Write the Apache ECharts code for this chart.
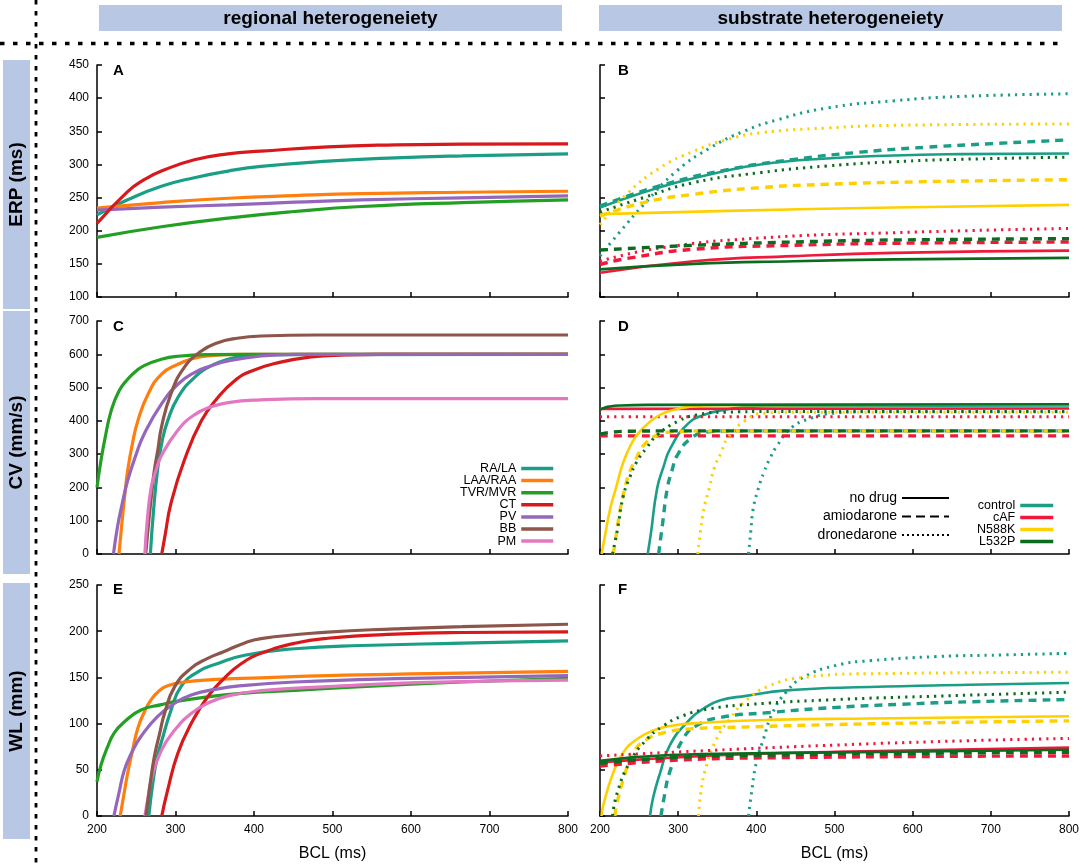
<!DOCTYPE html>
<html>
<head>
<meta charset="utf-8">
<script src="https://cdn.jsdelivr.net/npm/echarts@6/dist/echarts.min.js"></script>
<style>
html, body { margin: 0; padding: 0; background: #fff; }
#chart { width: 1084px; height: 867px; }
</style>
</head>
<body>
<div id="chart"></div>
<script>
// ---- data: [BCL (ms), value] ----
var regionNames = ['RA/LA', 'LAA/RAA', 'TVR/MVR', 'CT', 'PV', 'BB', 'PM'];
var drugNames = ['no drug', 'amiodarone', 'dronedarone'];
var substrateNames = ['control', 'cAF', 'N588K', 'L532P'];

// A: ERP, regional
var erpRA  = [[200,224],[239,246.6],[282,267],[324,280],[367,290],[409,297],[494,305],[580,310],[665,313],[800,316]];
var erpLAA = [[200,234],[282,242.5],[367,249],[452,253],[537,256],[665,258],[800,259.5]];
var erpTVR = [[200,190],[282,206],[367,219],[452,229],[537,236.5],[665,242.5],[800,246.5]];
var erpCT  = [[200,211],[239,259],[260,277],[282,290],[324,307],[367,316],[409,320],[494,326.5],[580,329.5],[665,330.5],[800,331]];
var erpPV  = [[200,231],[282,235.5],[367,239],[452,243],[537,246.5],[665,249.5],[800,252.5]];

// C: CV, regional
var cvRA  = [[268,0],[272,130],[277,250],[283,340],[290,400],[303,470],[324,530],[345,565],[367,585],[388,593],[430,599],[800,600]];
var cvLAA = [[228,0],[232,100],[236,190],[239,250],[245,330],[252,400],[265,480],[282,540],[303,570],[324,588],[345,596],[380,600],[800,600]];
var cvTVR = [[200,200],[205,280],[210,345],[218,430],[228,490],[239,525],[250,550],[260,566],[282,585],[303,594],[340,599],[400,600],[800,600]];
var cvCT  = [[282.5,0],[287,60],[294,150],[311,280],[333,400],[354,470],[375,520],[397,550],[431,575],[473,592],[516,598],[560,600],[800,600]];
var cvPV  = [[221,0],[226,80],[232,150],[239,220],[250,300],[260,360],[282,450],[303,510],[324,545],[345,565],[367,580],[409,595],[452,600],[800,600]];
var cvBB  = [[262,0],[266,100],[270,190],[273,250],[278,320],[282,380],[294,480],[311,560],[333,610],[354,635],[375,647],[409,655],[480,658],[800,658]];
var cvPM  = [[261,0],[264,100],[269,200],[275,250],[282,295],[303,372],[324,418],[345,442],[367,455],[409,463],[480,467],[800,467]];

// E: WL, regional
var wlRA  = [[266,0],[271,35],[277,65],[282,80],[294.5,115],[307,140],[328.5,156],[354,165],[388,174],[452,181],[537,184.5],[665,187],[800,189.5]];
var wlLAA = [[229.5,0],[234,22],[239,46],[245,70],[252,95],[260,112],[269,126],[280,136],[290,141],[311,145],[346,147.5],[409,149.5],[494,152],[622,154],[800,156.5]];
var wlTVR = [[200,37],[205,55],[213.6,75],[222,90],[235,102],[256,114.7],[282,120.5],[299,123.7],[341,129],[384,132.8],[452,136],[537,140],[665,145],[800,149]];
var wlCT  = [[282.5,0],[290,28],[303,68],[320,100],[341,129],[362,149],[384,165],[409,176],[452,187],[494,192.4],[580,196.8],[665,198.6],[800,199.3]];
var wlPV  = [[221.5,0],[228,25],[235,50],[245,70],[256,86],[277,107.5],[299,122],[320,131],[350,137],[384,141],[452,145],[580,148.6],[800,152]];
var wlBB  = [[262.5,0],[267,30],[273,64],[280,90],[286,111],[299,140],[320,160],[341,170.6],[362,178],[384,186],[409,192],[494,199],[580,202.5],[665,205],[800,207.5]];
var wlPM  = [[261,0],[265,20],[269,39],[282,71],[299,93],[320,111],[341,122],[367,130],[409,135.6],[494,140],[622,144.6],[800,147]];

// B: ERP, substrate (solid = no drug, Amio = amiodarone, Dron = dronedarone)
var erpCtrl      = [[200,235],[251,256],[298,272.6],[350,287.6],[405,300],[490,309],[576,313.5],[661,315.5],[800,316.5]];
var erpCtrlAmio  = [[200,237],[277,268],[363,292],[448,307.5],[533,318.5],[618,326],[704,331.5],[800,337]];
var erpCtrlDron  = [[200,162],[226,199],[256,239.5],[298,290],[341,325],[384,350],[426,367],[490,385],[576,396],[661,402.5],[800,406.5]];
var erpCaf       = [[200,136.6],[320,154],[448,161.6],[576,166.6],[800,170]];
var erpCafAmio   = [[200,149],[234,158],[320,172],[448,178],[576,181],[800,183]];
var erpCafDron   = [[200,154],[277,174],[405,189],[576,197],[800,203.5]];
var erpN588      = [[200,225],[363,230],[576,235],[800,239]];
var erpN588Amio  = [[200,222],[256,242.5],[320,255],[405,265],[490,270],[618,274],[800,277]];
var erpN588Dron  = [[200,209],[234,255],[277,295],[320,320],[363,337.6],[405,347.6],[490,355],[576,359],[800,361]];
var erpL532      = [[200,141.7],[320,150],[448,154],[576,156.7],[800,159]];
var erpL532Amio  = [[200,170.8],[320,178],[448,183],[576,186],[800,188]];
var erpL532Dron  = [[200,228],[256,250],[320,272.6],[405,287.6],[490,297.6],[576,304],[661,307.7],[800,311]];

// D: CV, substrate
var cvCtrl      = [[261,0],[265,60],[273,196],[281,260],[290,317],[311,388],[333,418],[359,433],[380,440],[430,445],[800,446]];
var cvCtrlAmio  = [[275,0],[280,90],[286,196],[292,250],[299,297],[316,347],[338,367],[370,370],[800,370]];
var cvCtrlDron  = [[390,0],[393,70],[396,136],[403,200],[410,247],[418,290],[427,327],[444,378],[470,408],[499,423],[540,427],[800,427]];
var cvCaf       = [[200,436],[800,437]];
var cvCafAmio   = [[200,355],[800,355]];
var cvCafDron   = [[200,412],[800,412]];
var cvN588      = [[202,0],[206,50],[213,136],[220,195],[230,277],[240,330],[251,368],[273,413],[294,433],[316,443],[350,447],[800,449]];
var cvN588Amio  = [[217,0],[221,60],[226,136],[232,200],[238,247],[247,290],[256,327],[273,357],[294,367],[330,370],[800,370]];
var cvN588Dron  = [[325,0],[328,60],[333,136],[340,200],[346,257],[355,305],[363,347],[384,398],[410,423],[450,426],[800,426]];
var cvL532      = [[200,433],[205,439],[212,443],[225,446],[260,448],[800,450]];
var cvL532Amio  = [[200,360],[215,366],[240,369],[300,370],[800,370]];
var cvL532Dron  = [[216,0],[222,70],[230,176],[238,230],[247,277],[260,320],[273,357],[299,398],[324,418],[359,426],[420,428],[800,428]];

// F: WL, substrate
var wlCtrl      = [[264,0],[268,20],[277,47],[289,76],[311,101],[332,116],[353,125],[387,130],[438,136],[545,139.6],[672,142],[800,144]];
var wlCtrlAmio  = [[278,0],[282,20],[289,47],[306,83],[323,97.5],[353,106.5],[417,112],[502,117.5],[587,121],[672,123.6],[800,126]];
var wlCtrlDron  = [[390,0],[393,20],[400,58],[409,83],[421,112],[438,134],[460,150],[502,163],[545,168],[630,172.5],[715,174.3],[800,176]];
var wlCaf       = [[200,58],[332,65],[502,69.5],[800,74]];
var wlCafAmio   = [[200,54],[289,60],[417,63],[800,65]];
var wlCafDron   = [[200,65],[332,70.6],[502,76.8],[672,81.5],[800,84]];
var wlN588      = [[202,0],[204,11],[217,47],[230,69],[247,83],[268,92.5],[289,97.5],[332,101],[417,104],[545,105.5],[800,108]];
var wlN588Amio  = [[219,0],[221,11],[230,40],[243,69],[260,83],[281,90],[311,94],[374,96],[502,99],[630,101],[800,103]];
var wlN588Dron  = [[326,0],[329,25],[336,54],[349,83],[366,105],[387,125],[417,141],[460,150],[545,154],[800,155.5]];
var wlL532      = [[200,59.8],[289,66],[417,68],[587,69.5],[800,71.7]];
var wlL532Amio  = [[200,57],[289,63],[417,66],[800,69]];
var wlL532Dron  = [[216,0],[222,25],[238,58],[260,83],[281,97.5],[306,108.5],[340,116],[396,121],[502,126],[630,129.7],[800,134]];

// ---- styling ----
var FONT = '"Liberation Sans", Arial, Helvetica, sans-serif';
var regionColors = {
    'RA/LA': '#1b9e86', 'LAA/RAA': '#ff7f0e', 'TVR/MVR': '#239f23', 'CT': '#d7191c',
    'PV': '#9467bd', 'BB': '#8c564b', 'PM': '#e377c2'
};
var subColors = { control: '#1b9e86', cAF: '#f0193c', N588K: '#ffd000', L532P: '#0b6b1e' };
var DASH = [8, 6], DOT = [2.2, 5];

var grids = [
    { left: 97,  top: 65,  width: 471, height: 232 },
    { left: 600, top: 65,  width: 469, height: 232 },
    { left: 97,  top: 321, width: 471, height: 233 },
    { left: 600, top: 321, width: 469, height: 233 },
    { left: 97,  top: 585, width: 471, height: 231 },
    { left: 600, top: 585, width: 469, height: 231 }
];
var yRanges = [[100, 450, 50], [0, 700, 100], [0, 250, 50]];

var xAxes = grids.map(function (g, i) {
    var bottom = i >= 4;
    return {
        type: 'value', gridIndex: i, min: 200, max: 800, interval: 100,
        name: bottom ? 'BCL (ms)' : '', nameLocation: 'middle', nameGap: 30,
        nameTextStyle: { fontSize: 16, color: '#000', fontFamily: FONT },
        axisLine: { onZero: false, lineStyle: { color: '#000', width: 1.5 } },
        axisTick: { inside: true, length: 5, lineStyle: { color: '#000', width: 1.5 } },
        axisLabel: { show: bottom, fontSize: 12, color: '#000', fontFamily: FONT },
        splitLine: { show: false }
    };
});
var yAxes = grids.map(function (g, i) {
    var r = yRanges[Math.floor(i / 2)];
    return {
        type: 'value', gridIndex: i, min: r[0], max: r[1], interval: r[2],
        axisLine: { show: true, onZero: false, lineStyle: { color: '#000', width: 1.5 } },
        axisTick: { show: true, inside: true, length: 5, lineStyle: { color: '#000', width: 1.5 } },
        axisLabel: { show: i % 2 === 0, fontSize: 12, color: '#000', fontFamily: FONT, margin: 8 },
        splitLine: { show: false }
    };
});

var series = [];
function addLine(name, data, gi, color, dash, width) {
    series.push({
        name: name, type: 'line', xAxisIndex: gi, yAxisIndex: gi, data: data,
        symbol: 'none', showSymbol: false, smooth: 0.5,
        lineStyle: { color: color, width: width, type: dash, cap: 'butt' },
        itemStyle: { color: color },
        silent: true, animation: false
    });
}

// regional panels
addLine('RA/LA', erpRA, 0, regionColors['RA/LA'], 'solid', 3.2);
addLine('LAA/RAA', erpLAA, 0, regionColors['LAA/RAA'], 'solid', 3.2);
addLine('TVR/MVR', erpTVR, 0, regionColors['TVR/MVR'], 'solid', 3.2);
addLine('PV', erpPV, 0, regionColors['PV'], 'solid', 3.2);
addLine('CT', erpCT, 0, regionColors['CT'], 'solid', 3.2);

addLine('RA/LA', cvRA, 2, regionColors['RA/LA'], 'solid', 3.2);
addLine('LAA/RAA', cvLAA, 2, regionColors['LAA/RAA'], 'solid', 3.2);
addLine('TVR/MVR', cvTVR, 2, regionColors['TVR/MVR'], 'solid', 3.2);
addLine('CT', cvCT, 2, regionColors['CT'], 'solid', 3.2);
addLine('PV', cvPV, 2, regionColors['PV'], 'solid', 3.2);
addLine('BB', cvBB, 2, regionColors['BB'], 'solid', 3.2);
addLine('PM', cvPM, 2, regionColors['PM'], 'solid', 3.2);

addLine('RA/LA', wlRA, 4, regionColors['RA/LA'], 'solid', 3.2);
addLine('LAA/RAA', wlLAA, 4, regionColors['LAA/RAA'], 'solid', 3.2);
addLine('TVR/MVR', wlTVR, 4, regionColors['TVR/MVR'], 'solid', 3.2);
addLine('CT', wlCT, 4, regionColors['CT'], 'solid', 3.2);
addLine('PV', wlPV, 4, regionColors['PV'], 'solid', 3.2);
addLine('PM', wlPM, 4, regionColors['PM'], 'solid', 3.2);
addLine('BB', wlBB, 4, regionColors['BB'], 'solid', 3.2);

// substrate panels
function addSubstrate(gi, sets) {
    sets.forEach(function (s) {
        var c = subColors[s[0]];
        addLine(s[0] + ' dronedarone', s[3], gi, c, DOT, 3);
        addLine(s[0] + ' amiodarone', s[2], gi, c, DASH, 3.4);
        addLine(s[0], s[1], gi, c, 'solid', 2.6);
    });
}
addSubstrate(1, [
    ['control', erpCtrl, erpCtrlAmio, erpCtrlDron],
    ['N588K', erpN588, erpN588Amio, erpN588Dron],
    ['cAF', erpCaf, erpCafAmio, erpCafDron],
    ['L532P', erpL532, erpL532Amio, erpL532Dron]
]);
addSubstrate(3, [
    ['control', cvCtrl, cvCtrlAmio, cvCtrlDron],
    ['cAF', cvCaf, cvCafAmio, cvCafDron],
    ['N588K', cvN588, cvN588Amio, cvN588Dron],
    ['L532P', cvL532, cvL532Amio, cvL532Dron]
]);
addSubstrate(5, [
    ['control', wlCtrl, wlCtrlAmio, wlCtrlDron],
    ['N588K', wlN588, wlN588Amio, wlN588Dron],
    ['cAF', wlCaf, wlCafAmio, wlCafDron],
    ['L532P', wlL532, wlL532Amio, wlL532Dron]
]);
// line-style keys for the legend only
addLine('no drug', [], 3, '#000', 'solid', 2);
addLine('amiodarone', [], 3, '#000', [9, 5], 2);
addLine('dronedarone', [], 3, '#000', [2, 3], 2);

function legendText(size) {
    return { fontSize: size, color: '#000', fontFamily: FONT };
}
var noSymbol = { opacity: 0, borderWidth: 0 };

// ---- layout decorations ----
var graphics = [];
function headerBox(x, label) {
    graphics.push({ type: 'rect', shape: { x: x, y: 5, width: 463, height: 26 }, style: { fill: '#b8c7e4' }, silent: true });
    graphics.push({ type: 'text', x: x + 231.5, y: 18.5, silent: true,
        style: { text: label, font: 'bold 19px ' + FONT, fill: '#000',
                 align: 'center', verticalAlign: 'middle', textAlign: 'center', textVerticalAlign: 'middle' } });
}
function sideBox(y0, y1, label) {
    graphics.push({ type: 'rect', shape: { x: 3, y: y0, width: 27, height: y1 - y0 }, style: { fill: '#b8c7e4' }, silent: true });
    graphics.push({ type: 'text', x: 16.5, y: (y0 + y1) / 2, rotation: Math.PI / 2, silent: true,
        style: { text: label, font: 'bold 19px ' + FONT, fill: '#000',
                 align: 'center', verticalAlign: 'middle', textAlign: 'center', textVerticalAlign: 'middle' } });
}
function panelLetter(x, y, label) {
    graphics.push({ type: 'text', x: x, y: y, silent: true,
        style: { text: label, font: 'bold 15px ' + FONT, fill: '#000',
                 align: 'left', verticalAlign: 'middle', textAlign: 'left', textVerticalAlign: 'middle' } });
}
headerBox(99, 'regional heterogeneiety');
headerBox(599, 'substrate heterogeneiety');
sideBox(60, 309, 'ERP (ms)');
sideBox(311, 574, 'CV (mm/s)');
sideBox(583, 839, 'WL (mm)');
graphics.push({ type: 'line', silent: true, shape: { x1: 0, y1: 43.5, x2: 1062, y2: 43.5 },
    style: { stroke: '#000', lineWidth: 3.3, lineDash: [4.5, 8.5] } });
graphics.push({ type: 'line', silent: true, shape: { x1: 36, y1: 0, x2: 36, y2: 867 },
    style: { stroke: '#000', lineWidth: 2.8, lineDash: [4.5, 6.5] } });
panelLetter(113, 71, 'A');
panelLetter(618, 71, 'B');
panelLetter(113, 327, 'C');
panelLetter(618, 327, 'D');
panelLetter(113, 590, 'E');
panelLetter(618, 590, 'F');

var chart = echarts.init(document.getElementById('chart'));
chart.setOption({
    animation: false,
    backgroundColor: '#fff',
    grid: grids,
    xAxis: xAxes,
    yAxis: yAxes,
    legend: [
        {
            data: regionNames, orient: 'vertical', align: 'right', right: 529, top: 462,
            padding: 0, itemWidth: 32, itemHeight: 9, itemGap: -0.9, selectedMode: false,
            itemStyle: noSymbol, lineStyle: { width: 3.5 }, textStyle: legendText(12.5)
        },
        {
            data: drugNames, orient: 'vertical', align: 'right', right: 134, top: 491,
            padding: 0, itemWidth: 47, itemHeight: 10, itemGap: 4.5, selectedMode: false,
            itemStyle: noSymbol, lineStyle: { width: 2 }, textStyle: legendText(14)
        },
        {
            data: substrateNames, orient: 'vertical', align: 'right', right: 29, top: 499,
            padding: 0, itemWidth: 33, itemHeight: 9, itemGap: -1, selectedMode: false,
            itemStyle: noSymbol, lineStyle: { width: 3.5 }, textStyle: legendText(12.5)
        }
    ],
    graphic: graphics,
    series: series
});
</script>
</body>
</html>
